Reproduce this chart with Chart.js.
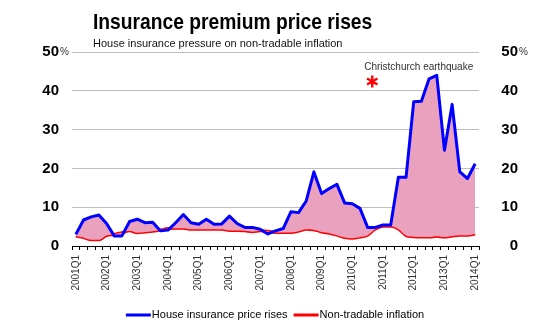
<!DOCTYPE html>
<html>
<head>
<meta charset="utf-8">
<script src="https://cdn.jsdelivr.net/npm/chart.js@4.4.1/dist/chart.umd.min.js"></script>
<style>
  html, body { margin: 0; padding: 0; background: #fff; }
  #wrap { width: 550px; height: 325px; position: relative; }
</style>
</head>
<body>
<div id="wrap"><canvas id="insChart"></canvas></div>
<script>
const quarters = [
  "2001Q1","2001Q2","2001Q3","2001Q4","2002Q1","2002Q2","2002Q3","2002Q4",
  "2003Q1","2003Q2","2003Q3","2003Q4","2004Q1","2004Q2","2004Q3","2004Q4",
  "2005Q1","2005Q2","2005Q3","2005Q4","2006Q1","2006Q2","2006Q3","2006Q4",
  "2007Q1","2007Q2","2007Q3","2007Q4","2008Q1","2008Q2","2008Q3","2008Q4",
  "2009Q1","2009Q2","2009Q3","2009Q4","2010Q1","2010Q2","2010Q3","2010Q4",
  "2011Q1","2011Q2","2011Q3","2011Q4","2012Q1","2012Q2","2012Q3","2012Q4",
  "2013Q1","2013Q2","2013Q3","2013Q4","2014Q1"
];

// annual % change, house insurance component of CPI
const houseInsurance = [
  3.0, 6.7, 7.5, 8.0, 5.8, 2.6, 2.6, 6.3,
  6.9, 6.0, 6.1, 3.9, 4.1, 6.0, 8.1, 6.0,
  5.6, 6.9, 5.6, 5.7, 7.7, 5.8, 4.8, 4.8,
  4.3, 3.1, 3.9, 4.5, 8.8, 8.6, 11.6, 19.1,
  13.5, 14.8, 15.9, 11.1, 10.9, 9.7, 4.8, 4.8,
  5.4, 5.4, 17.7, 17.7, 37.2, 37.3, 43.1, 44.0,
  24.7, 36.5, 19.1, 17.4, 21.2
];

// annual % change, non-tradable CPI
const nonTradable = [
  2.6, 2.2, 1.6, 1.6, 2.7, 3.0, 3.4, 3.9,
  3.4, 3.6, 3.8, 4.1, 4.5, 4.6, 4.6, 4.3,
  4.3, 4.3, 4.3, 4.3, 4.0, 4.0, 3.9, 3.7,
  3.9, 3.8, 3.5, 3.5, 3.5, 3.8, 4.3, 4.2,
  3.6, 3.3, 2.8, 2.2, 2.0, 2.3, 2.8, 4.4,
  5.1, 5.1, 4.4, 2.7, 2.4, 2.3, 2.3, 2.5,
  2.3, 2.6, 2.8, 2.8, 3.1
];

const yTicks = [0, 10, 20, 30, 40, 50];

// earthquake marker: position on the quarter axis and value axis
const quakeAt = { index: 38.6, value: 42.4, text: "Christchurch earthquake" };

const FONT = "'Liberation Sans', Arial, sans-serif";

// title, subtitle, % signs, annotation and the legend row underneath
const decorations = {
  id: "decorations",
  afterDraw(chart) {
    const ctx = chart.ctx;
    const x = chart.scales.x;
    const y = chart.scales.y;
    ctx.save();

    ctx.fillStyle = "#000";
    ctx.textBaseline = "alphabetic";
    ctx.textAlign = "left";
    ctx.font = "bold 22px " + FONT;
    ctx.save();
    ctx.translate(93, 29);
    ctx.scale(0.875, 1);
    ctx.fillText("Insurance premium price rises", 0, 0);
    ctx.restore();

    ctx.font = "11px " + FONT;
    ctx.fillStyle = "#111";
    ctx.fillText("House insurance pressure on non-tradable inflation", 93, 47);

    const top = y.getPixelForValue(50);
    ctx.font = "10px " + FONT;
    ctx.fillStyle = "#333";
    ctx.fillText("%", 60, top + 3);
    ctx.fillText("%", 519, top + 3);

    const ax = x.getPixelForValue(quakeAt.index);
    const ay = y.getPixelForValue(quakeAt.value);
    ctx.fillText(quakeAt.text, ax - 8, ay - 11);

    ctx.strokeStyle = "#ff0000";
    ctx.lineWidth = 2.4;
    const r = 6;
    ctx.beginPath();
    for (let k = 0; k < 3; k++) {
      const a = -Math.PI / 2 + k * Math.PI / 3;
      ctx.moveTo(ax - r * Math.cos(a), ay - r * Math.sin(a));
      ctx.lineTo(ax + r * Math.cos(a), ay + r * Math.sin(a));
    }
    ctx.stroke();

    // legend: short line swatch then label, items centred as a group
    const sw = 25, gap = 1, between = 6, ly = 315;
    ctx.font = "11px " + FONT;
    ctx.textBaseline = "middle";
    const items = chart.data.datasets.map(ds => ({
      text: ds.label, color: ds.borderColor, w: ctx.measureText(ds.label).width
    }));
    let total = 0;
    items.forEach((it, i) => { total += sw + gap + it.w + (i ? between : 0); });
    let lx = 275 - total / 2;
    items.forEach(it => {
      ctx.fillStyle = it.color;
      ctx.fillRect(lx, ly - 1.5, sw, 3);
      ctx.fillStyle = "#000";
      ctx.fillText(it.text, lx + sw + gap, ly);
      lx += sw + gap + it.w + between;
    });
    ctx.restore();
  }
};

const yTickOpts = {
  min: 0,
  max: 50,
  ticks: {
    stepSize: 10,
    color: "#000",
    font: { family: FONT, size: 15, weight: "bold" },
    callback: v => yTicks.includes(v) ? String(v) : ""
  },
  border: { display: false }
};

new Chart(document.getElementById("insChart"), {
  type: "line",
  data: {
    labels: quarters,
    datasets: [
      {
        label: "House insurance price rises",
        data: houseInsurance,
        borderColor: "#0000ff",
        backgroundColor: "#e9a1bd",
        borderWidth: 3,
        borderJoinStyle: "round",
        pointRadius: 0,
        tension: 0,
        fill: "+1"
      },
      {
        label: "Non-tradable inflation",
        data: nonTradable,
        borderColor: "#ff0000",
        backgroundColor: "#ff0000",
        borderWidth: 3,
        pointRadius: 0,
        cubicInterpolationMode: "monotone",
        fill: false
      }
    ]
  },
  options: {
    responsive: true,
    maintainAspectRatio: false,
    animation: false,
    events: [],
    layout: { padding: { top: 52, left: 0, right: 32, bottom: 0 } },
    scales: {
      x: {
        offset: true,
        grid: {
          offset: true,
          drawOnChartArea: false,
          drawTicks: true,
          tickLength: 4,
          color: "#000"
        },
        border: { display: true, color: "#000", width: 1 },
        ticks: {
          autoSkip: false,
          maxRotation: 90,
          minRotation: 90,
          padding: 5,
          color: "#333",
          font: { family: FONT, size: 10 },
          callback: (v, i) => i % 4 === 0 ? quarters[i] : ""
        },
        afterFit: s => { s.height = 79; }
      },
      y: Object.assign({}, yTickOpts, {
        position: "left",
        grid: { color: "#bdbdbd", drawTicks: false },
        ticks: Object.assign({}, yTickOpts.ticks, { padding: 13 }),
        afterFit: s => { s.width = 72; }
      }),
      y2: Object.assign({}, yTickOpts, {
        position: "right",
        grid: { display: false, drawTicks: false },
        ticks: Object.assign({}, yTickOpts.ticks, { padding: 23, crossAlign: "far" }),
        afterFit: s => { s.width = 39; }
      })
    },
    plugins: {
      title: { display: false },
      tooltip: { enabled: false },
      legend: { display: false }
    }
  },
  plugins: [decorations]
});
</script>
</body>
</html>
